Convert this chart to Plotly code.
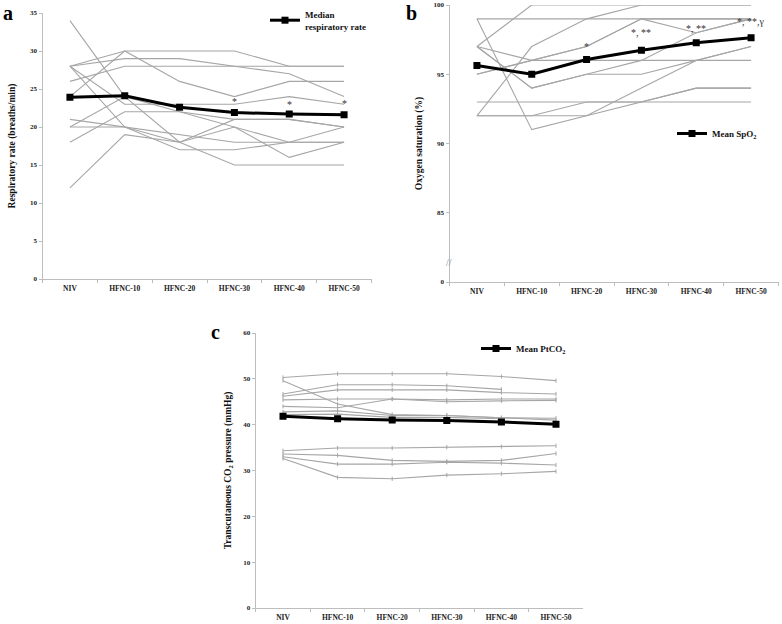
import plotly.graph_objects as go

categories = ["NIV", "HFNC-10", "HFNC-20", "HFNC-30", "HFNC-40", "HFNC-50"]

# Panel a: respiratory rate (breaths/min), individual patients
rr_patients = [
    [34, 24, 18, 15, 15, 15],
    [28, 30, 30, 30, 28, 28],
    [28, 29, 29, 28, 27, 24],
    [26, 28, 28, 28, 28, 28],
    [24, 30, 26, 24, 26, 26],
    [28, 23, 23, 23, 24, 23],
    [28, 20, 18, 20, 16, 18],
    [21, 20, 19, 18, 18, 18],
    [20, 24, 22, 21, 21, 20],
    [20, 20, 17, 17, 18, 20],
    [18, 22, 22, 20, 18, 18],
    [12, 19, 18, 21, 21, 20],
]
rr_median = [23.9, 24.1, 22.6, 21.9, 21.7, 21.6]
rr_sig_pos = [23.3, 23.0, 23.1]
rr_sig_text = ["*", "*", "*"]
rr_sig_cats = ["HFNC-30", "HFNC-40", "HFNC-50"]

# Panel b: SpO2 (%)
spo2_patients = [
    [97, 100, 100, 100, 100, 100],
    [99, 99, 99, 99, 99, 99],
    [99, 91, 92, 93, 94, 94],
    [92, 97, 99, 100, 100, 100],
    [97, 96, 97, 99, 98, 99],
    [95, 96, 96, 96, 96, 96],
    [97, 94, 95, 96, 98, 99],
    [97, 94, 95, 95, 96, 97],
    [93, 93, 93, 93, 94, 94],
    [92, 92, 92, 94, 96, 97],
    [95, 96, 97, 99, 99, 99],
    [92, 92, 93, 93, 93, 93],
]
spo2_mean = [95.63, 95.0, 96.07, 96.74, 97.27, 97.63]
spo2_sig_pos = [97.0, 98.0, 98.3, 98.8]
spo2_sig_text = ["*", "*, **", "*, **", "*, **,γ"]
spo2_sig_cats = ["HFNC-20", "HFNC-30", "HFNC-40", "HFNC-50"]
spo2_tickvals = [80, 85, 90, 95, 100]
spo2_ticktext = ["0", "85", "90", "95", "100"]

# Panel c: PtCO2 (mmHg)
ptco2_patients = [
    [50.3, 51.1, 51.1, 51.1, 50.5, 49.6],
    [49.6, 44.5, 42.2, 42.0, 41.5, 41.4],
    [46.7, 48.7, 48.7, 48.5, 47.7, None],
    [46.2, 47.6, 47.6, 47.6, 47.0, 46.7],
    [45.4, 45.6, 45.6, 45.4, 45.6, 45.6],
    [44.0, 43.7, 45.6, 45.0, 45.2, 45.3],
    [42.8, 43.0, 42.0, 42.0, 41.5, 41.0],
    [42.2, 42.3, 41.6, 41.6, 41.3, None],
    [34.3, 34.9, 34.9, 35.1, 35.2, 35.4],
    [33.6, 33.3, 32.2, 32.0, 32.2, 33.7],
    [33.0, 31.4, 31.4, 31.8, 31.6, 31.2],
    [32.6, 28.5, 28.2, 29.0, 29.3, 29.8],
]
ptco2_mean = [41.85, 41.3, 41.0, 40.9, 40.6, 40.1]

GRAY = "#a6a6a6"
AXIS = "#bdbdbd"
SERIF = "Liberation Serif, Times New Roman, serif"

fig = go.Figure()

def add_panel(patients, summary, name, xa, ya, legend, marker_small=False):
    for p in patients:
        fig.add_trace(go.Scatter(
            x=categories, y=p, mode="lines+markers" if marker_small else "lines",
            line=dict(color=GRAY, width=1.1),
            marker=dict(symbol="line-ns-open", size=3, color=GRAY, line=dict(color=GRAY, width=1)),
            xaxis=xa, yaxis=ya, showlegend=False, hoverinfo="skip", connectgaps=False))
    fig.add_trace(go.Scatter(
        x=categories, y=summary, mode="lines+markers", name=name,
        line=dict(color="black", width=3),
        marker=dict(symbol="square", size=7, color="black"),
        xaxis=xa, yaxis=ya, legend=legend, showlegend=True))

add_panel(rr_patients, rr_median, "Median<br>respiratory rate", "x", "y", "legend")
add_panel(spo2_patients, spo2_mean, "Mean SpO<sub>2</sub>", "x2", "y2", "legend2")
add_panel(ptco2_patients, ptco2_mean, "Mean PtCO<sub>2</sub>", "x3", "y3", "legend3", marker_small=True)

def xaxis(domain, anchor):
    return dict(domain=domain, anchor=anchor, type="category", range=[-0.5, 5.5],
                showline=True, linecolor=AXIS, linewidth=1, showgrid=False, zeroline=False,
                ticks="outside", ticklen=3, tickcolor=AXIS, tickson="boundaries",
                ticklabelstandoff=2, automargin=False,
                tickfont=dict(family=SERIF, size=7.5, color="#222", weight="bold"),
                fixedrange=True)

def yaxis(domain, anchor, rng, dtick, title, standoff=9, tickvals=None, ticktext=None):
    d = dict(domain=domain, anchor=anchor, range=rng, showline=True, linecolor=AXIS, linewidth=1,
             showgrid=False, zeroline=False, ticks="outside", ticklen=3, tickcolor=AXIS,
             automargin=False, fixedrange=True,
             tickfont=dict(family=SERIF, size=7, color="#222", weight="bold"),
             title=dict(text=title, font=dict(family=SERIF, size=9.5, color="#111", weight="bold"),
                        standoff=standoff))
    if tickvals is not None:
        d.update(tickmode="array", tickvals=tickvals, ticktext=ticktext)
    else:
        d.update(dtick=dtick)
    return d

W, H = 782, 624
fig.update_layout(
    width=W, height=H, margin=dict(l=0, r=0, t=0, b=0, autoexpand=False),
    plot_bgcolor="white", paper_bgcolor="white",
    xaxis=xaxis([42.5 / W, 371.5 / W], "y"),
    yaxis=yaxis([1 - 279 / H, 1 - 13 / H], "x", [0, 35], 5, "Respiratory rate (breaths/min)", standoff=12),
    xaxis2=xaxis([449.5 / W, 778.5 / W], "y2"),
    yaxis2=yaxis([1 - 282 / H, 1 - 5 / H], "x2", [80, 100], 5, "Oxygen saturation (%)",
                 tickvals=spo2_tickvals, ticktext=spo2_ticktext),
    xaxis3=xaxis([255.7 / W, 583.3 / W], "y3"),
    yaxis3=yaxis([1 - 608 / H, 1 - 333 / H], "x3", [0, 60], 10,
                 "Transcutaneous CO<sub>2</sub> pressure (mmHg)"),
    legend=dict(x=265 / W, y=1 - 2 / H, xanchor="left", yanchor="top", bgcolor="rgba(0,0,0,0)",
                font=dict(family=SERIF, size=9, color="#111", weight="bold"), itemwidth=30),
    legend2=dict(x=672 / W, y=1 - 119 / H, xanchor="left", yanchor="top", bgcolor="rgba(0,0,0,0)",
                 font=dict(family=SERIF, size=9, color="#111", weight="bold"), itemwidth=30),
    legend3=dict(x=476 / W, y=1 - 334 / H, xanchor="left", yanchor="top", bgcolor="rgba(0,0,0,0)",
                 font=dict(family=SERIF, size=9, color="#111", weight="bold"), itemwidth=30),
)

ann = []
for c, v, t in zip(rr_sig_cats, rr_sig_pos, rr_sig_text):
    ann.append(dict(x=c, y=v, xref="x", yref="y", text=t, showarrow=False,
                    font=dict(family=SERIF, size=10, color="#333")))
for c, v, t in zip(spo2_sig_cats, spo2_sig_pos, spo2_sig_text):
    ann.append(dict(x=c, y=v, xref="x2", yref="y2", text=t, showarrow=False,
                    font=dict(family=SERIF, size=10, color="#333")))
# panel letters
for letter, px, py in [("a", 8, 0), ("b", 412, 0), ("c", 215, 319)]:
    ann.append(dict(x=px / W, y=1 - py / H, xref="paper", yref="paper", text=letter, showarrow=False,
                    xanchor="center", yanchor="top",
                    font=dict(family=SERIF, size=20, color="black", weight="bold")))
# axis break mark on panel b
ann.append(dict(x=449 / W, y=81.4, xref="paper", yref="y2", text="//", showarrow=False,
                xanchor="center", yanchor="middle", font=dict(family=SERIF, size=10, color="#888")))
fig.update_layout(annotations=ann)

fig.write_html("out.html", config={"displayModeBar": False},
               post_script="document.body.style.margin='0';")
